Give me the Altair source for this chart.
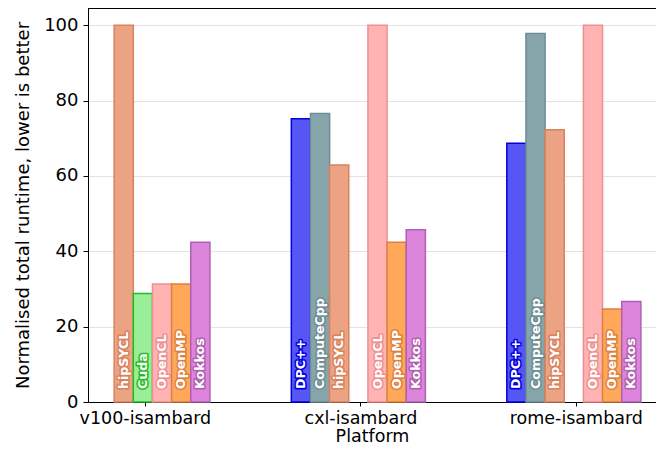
import altair as alt
import pandas as pd

platforms = ["v100-isambard", "cxl-isambard", "rome-isambard"]
impls = ["DPC++", "ComputeCpp", "hipSYCL", "Cuda", "OpenCL", "OpenMP", "Kokkos"]
v100_vals = [None, None, 100.0, 28.8, 31.3, 31.3, 42.4]
cxl_vals = [75.2, 76.6, 62.9, None, 100.0, 42.4, 45.7]
rome_vals = [68.7, 97.8, 72.3, None, 100.0, 24.7, 26.7]

fill_colors = ["#5656f4", "#86a5ab", "#eba384", "#99ee99", "#ffb3b3", "#ffa85a", "#dd85dd"]
edge_colors = ["#0000e0", "#6e8e94", "#d9825f", "#22bb22", "#ee9090", "#dd8040", "#b060b0"]

rows = []
for pi, (p, vals) in enumerate(zip(platforms, [v100_vals, cxl_vals, rome_vals])):
    for k, (impl, v) in enumerate(zip(impls, vals)):
        if v is None:
            continue
        rows.append({"Platform": p, "pidx": pi, "slot": k, "Implementation": impl, "Runtime": v})
df = pd.DataFrame(rows)

W = 0.8 / 9
FONT = "DejaVu Sans"
YMAX = 104.6

xscale = alt.Scale(domain=[-0.264, 2.372], nice=False, zero=False)
yscale = alt.Scale(domain=[0, YMAX], nice=False)
fill_scale = alt.Scale(domain=impls, range=fill_colors)
edge_scale = alt.Scale(domain=impls, range=edge_colors)

label_expr = "['v100-isambard','cxl-isambard','rome-isambard'][datum.value]"

base = alt.Chart(df).transform_calculate(
    xc=f"datum.pidx + (datum.slot - 3) * {W} - 0.0093",
    x0=f"datum.pidx + (datum.slot - 3) * {W} - 0.0093 - {W / 2}",
    x1=f"datum.pidx + (datum.slot - 3) * {W} - 0.0093 + {W / 2}",
)

bars = base.mark_bar(strokeWidth=1.5).encode(
    x=alt.X("x0:Q", scale=xscale,
            axis=alt.Axis(values=[0, 1, 2], labelExpr=label_expr, title="Platform",
                          grid=False, labelFontSize=17.5, titleFontSize=17.5,
                          labelFont=FONT, titleFont=FONT, tickSize=4, labelPadding=3,
                          titlePadding=1,
                          domainColor="black", tickColor="black",
                          labelColor="black", titleColor="black", titleFontWeight="normal",
                          labelFlush=False)),
    x2="x1:Q",
    y=alt.Y("Runtime:Q", scale=yscale,
            axis=alt.Axis(values=[0, 20, 40, 60, 80, 100], title="Normalised total runtime, lower is better",
                          grid=True, gridColor="#e3e3e3", labelFontSize=18, titleFontSize=18,
                          labelFont=FONT, titleFont=FONT, tickSize=5, labelPadding=5,
                          titlePadding=11, domainColor="black", tickColor="black",
                          labelColor="black", titleColor="black", titleFontWeight="normal",
                          labelFlush=False)),
    y2=alt.datum(0),
    fill=alt.Fill("Implementation:N", scale=fill_scale, legend=None),
    stroke=alt.Stroke("Implementation:N", scale=edge_scale, legend=None),
)

outline = base.mark_text(angle=270, align="left", baseline="middle", dx=13, font=FONT,
                         fontWeight="bold", fontSize=12.6, strokeWidth=3.2, strokeJoin="round",
                         fillOpacity=0).encode(
    x=alt.X("xc:Q", scale=xscale),
    y=alt.datum(0),
    text="Implementation:N",
    stroke=alt.Stroke("Implementation:N", scale=edge_scale, legend=None),
)

labels = base.mark_text(angle=270, align="left", baseline="middle", dx=13, font=FONT,
                        fontWeight="bold", fontSize=12.6, fill="white").encode(
    x=alt.X("xc:Q", scale=xscale),
    y=alt.datum(0),
    text="Implementation:N",
)

top_frame = alt.Chart(df).mark_rule(color="black", strokeWidth=1.2).encode(
    x=alt.value(0), x2=alt.value(568), y=alt.datum(YMAX)
)

chart = alt.layer(bars, outline, labels, top_frame).properties(
    width=568, height=394,
    autosize=alt.AutoSizeParams(type="none"),
    padding={"left": 80, "top": 0, "right": 0, "bottom": 49},
).configure_view(stroke=None)

chart.save("out.html", embed_options={"renderer": "svg", "actions": False})
